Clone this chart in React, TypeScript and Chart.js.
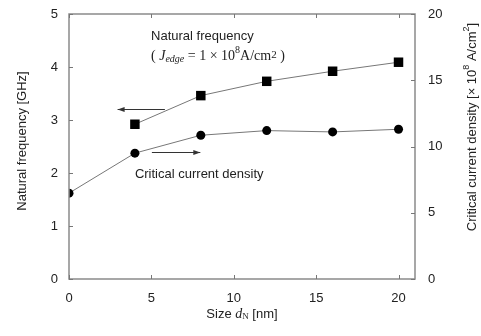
import React, { useEffect, useRef } from "react";
import { Chart, registerables } from "chart.js";
Chart.register(...registerables);

const sizes = [0, 4, 8, 12, 16, 20];
const naturalFreq = [null, 2.92, 3.46, 3.73, 3.92, 4.09];
const criticalDensity = [6.48, 9.5, 10.85, 11.2, 11.1, 11.3];
const xTicks = [0, 5, 10, 15, 20];
const leftTicks = [0, 1, 2, 3, 4, 5];
const rightTicks = [0, 5, 10, 15, 20];

// annotation anchors in data units (x: nm, y: GHz)
const noteNF = { x: 4.98, y: 4.58 };
const noteFormula = { x: 4.98, y: 4.21 };
const noteCCD = { x: 4.0, y: 1.98 };
const arrowLeft = { x1: 5.82, x2: 2.95, y: 3.2 };
const arrowRight = { x1: 5.03, x2: 7.97, y: 2.39 };

const SANS = "'Liberation Sans', Arial, sans-serif";
const SERIF = "'Liberation Serif', 'Times New Roman', serif";
const TXT = "#222";

type Run = { t: string; f: string; dy?: number };

function runsWidth(ctx: CanvasRenderingContext2D, runs: Run[]) {
  let w = 0;
  for (const r of runs) {
    ctx.font = r.f;
    w += ctx.measureText(r.t).width;
  }
  return w;
}
function drawRuns(ctx: CanvasRenderingContext2D, runs: Run[], x: number, y: number) {
  let cx = x;
  for (const r of runs) {
    ctx.font = r.f;
    ctx.fillText(r.t, cx, y + (r.dy || 0));
    cx += ctx.measureText(r.t).width;
  }
}

const decorPlugin = {
  id: "decor",
  afterDatasetsDraw(chart: any) {
    const ctx: CanvasRenderingContext2D = chart.ctx;
    const { left, right, top, bottom } = chart.chartArea;
    const xs = chart.scales.x;
    const yl = chart.scales.y;
    const yr = chart.scales.y2;
    ctx.save();
    // frame
    ctx.strokeStyle = "#8a8a8a";
    ctx.lineWidth = 1.5;
    ctx.strokeRect(left, top, right - left, bottom - top);
    ctx.lineWidth = 1;
    ctx.strokeStyle = "#777";
    ctx.beginPath();
    for (const v of xTicks) {
      const px = Math.round(xs.getPixelForValue(v)) + 0.5;
      ctx.moveTo(px, bottom);
      ctx.lineTo(px, bottom - 4);
      ctx.moveTo(px, top);
      ctx.lineTo(px, top + 4);
    }
    for (const v of leftTicks) {
      const py = Math.round(yl.getPixelForValue(v)) + 0.5;
      ctx.moveTo(left, py);
      ctx.lineTo(left + 4, py);
    }
    for (const v of rightTicks) {
      const py = Math.round(yr.getPixelForValue(v)) + 0.5;
      ctx.moveTo(right, py);
      ctx.lineTo(right - 4, py);
    }
    ctx.stroke();

    // arrows
    const arrow = (a: { x1: number; x2: number; y: number }) => {
      const x1 = xs.getPixelForValue(a.x1);
      const x2 = xs.getPixelForValue(a.x2);
      const py = Math.round(yl.getPixelForValue(a.y)) + 0.5;
      const dir = Math.sign(x2 - x1);
      ctx.strokeStyle = "#333";
      ctx.lineWidth = 1;
      ctx.beginPath();
      ctx.moveTo(x1, py);
      ctx.lineTo(x2, py);
      ctx.stroke();
      ctx.fillStyle = "#333";
      ctx.beginPath();
      ctx.moveTo(x2, py);
      ctx.lineTo(x2 - dir * 7, py - 2.5);
      ctx.lineTo(x2 - dir * 7, py + 2.5);
      ctx.closePath();
      ctx.fill();
    };
    arrow(arrowLeft);
    arrow(arrowRight);

    // annotation texts
    ctx.fillStyle = TXT;
    ctx.textBaseline = "middle";
    ctx.textAlign = "left";
    ctx.font = `13px ${SANS}`;
    ctx.fillText("Natural frequency", xs.getPixelForValue(noteNF.x), yl.getPixelForValue(noteNF.y));
    ctx.fillText("Critical current density", xs.getPixelForValue(noteCCD.x), yl.getPixelForValue(noteCCD.y));
    const fx = xs.getPixelForValue(noteFormula.x);
    const fy = yl.getPixelForValue(noteFormula.y);
    drawRuns(
      ctx,
      [
        { t: "( ", f: `14px ${SERIF}` },
        { t: "J", f: `italic 14px ${SERIF}` },
        { t: "edge", f: `italic 10px ${SERIF}`, dy: 4 },
        { t: " = 1 × 10", f: `14px ${SERIF}` },
        { t: "8", f: `10px ${SERIF}`, dy: -5 },
        { t: "A/cm", f: `14px ${SERIF}` },
        { t: "2", f: `11px ${SERIF}`, dy: -1 },
        { t: " )", f: `14px ${SERIF}` },
      ],
      fx,
      fy
    );

    // axis titles
    const leftTitle: Run[] = [{ t: "Natural frequency [GHz]", f: `13px ${SANS}` }];
    ctx.save();
    ctx.translate(22, 141);
    ctx.rotate(-Math.PI / 2);
    drawRuns(ctx, leftTitle, -runsWidth(ctx, leftTitle) / 2, 0);
    ctx.restore();

    const rightTitle: Run[] = [
      { t: "Critical current density [× 10", f: `13px ${SANS}` },
      { t: "8", f: `9px ${SANS}`, dy: -5 },
      { t: " A/cm", f: `13px ${SANS}` },
      { t: "2", f: `9px ${SANS}`, dy: -5 },
      { t: "]", f: `13px ${SANS}` },
    ];
    ctx.save();
    ctx.translate(472, 127);
    ctx.rotate(-Math.PI / 2);
    drawRuns(ctx, rightTitle, -runsWidth(ctx, rightTitle) / 2, 0);
    ctx.restore();

    const bottomTitle: Run[] = [
      { t: "Size ", f: `13px ${SANS}` },
      { t: "d", f: `italic 14px ${SERIF}` },
      { t: "N", f: `9px ${SERIF}`, dy: 3 },
      { t: " [nm]", f: `13px ${SANS}` },
    ];
    drawRuns(ctx, bottomTitle, (left + right) / 2 - runsWidth(ctx, bottomTitle) / 2, 314);
    ctx.restore();
  },
};

export default function App() {
  const ref = useRef<HTMLCanvasElement>(null);
  useEffect(() => {
    if (!ref.current) return;
    const tickFont = { family: SANS, size: 13 };
    const chart = new Chart(ref.current, {
      type: "scatter",
      data: {
        datasets: [
          {
            label: "Natural frequency",
            data: sizes.map((x, i) => ({ x, y: naturalFreq[i] as any })).filter((p) => p.y !== null),
            yAxisID: "y",
            showLine: true,
            borderColor: "#777",
            borderWidth: 1,
            pointStyle: "rect",
            pointRadius: 6.7,
            pointBackgroundColor: "#000",
            pointBorderColor: "#000",
            pointBorderWidth: 0,
          },
          {
            label: "Critical current density",
            data: sizes.map((x, i) => ({ x, y: criticalDensity[i] })),
            yAxisID: "y2",
            showLine: true,
            borderColor: "#777",
            borderWidth: 1,
            pointStyle: "circle",
            pointRadius: 4.5,
            pointBackgroundColor: "#000",
            pointBorderColor: "#000",
            pointBorderWidth: 0,
          },
        ],
      },
      options: {
        animation: false,
        responsive: false,
        layout: { padding: { top: 14, left: 0, right: 0, bottom: 0 } },
        plugins: { legend: { display: false }, tooltip: { enabled: false } },
        scales: {
          x: {
            type: "linear",
            min: 0,
            max: 21,
            grid: { display: false, drawTicks: false },
            border: { display: false },
            afterBuildTicks: (s: any) => {
              s.ticks = xTicks.map((v) => ({ value: v }));
            },
            afterFit: (s: any) => {
              s.height = 57;
              s.paddingLeft = 0;
              s.paddingRight = 0;
            },
            ticks: { font: tickFont, color: TXT, padding: 12 },
          },
          y: {
            position: "left",
            min: 0,
            max: 5,
            grid: { display: false, drawTicks: false },
            border: { display: false },
            afterBuildTicks: (s: any) => {
              s.ticks = leftTicks.map((v) => ({ value: v }));
            },
            afterFit: (s: any) => {
              s.width = 69;
              s.paddingTop = 0;
              s.paddingBottom = 0;
            },
            ticks: { font: tickFont, color: TXT, padding: 11 },
          },
          y2: {
            position: "right",
            min: 0,
            max: 20,
            grid: { display: false, drawTicks: false },
            border: { display: false },
            afterBuildTicks: (s: any) => {
              s.ticks = rightTicks.map((v) => ({ value: v }));
            },
            afterFit: (s: any) => {
              s.width = 66;
              s.paddingTop = 0;
              s.paddingBottom = 0;
            },
            ticks: { font: tickFont, color: TXT, padding: 13 },
          },
        },
      },
      plugins: [decorPlugin],
    });
    return () => chart.destroy();
  }, []);
  return (
    <div style={{ position: "absolute", left: 0, top: 0, width: 481, height: 336, background: "#fff" }}>
      <canvas ref={ref} width={481} height={336} style={{ width: 481, height: 336 }} />
    </div>
  );
}
